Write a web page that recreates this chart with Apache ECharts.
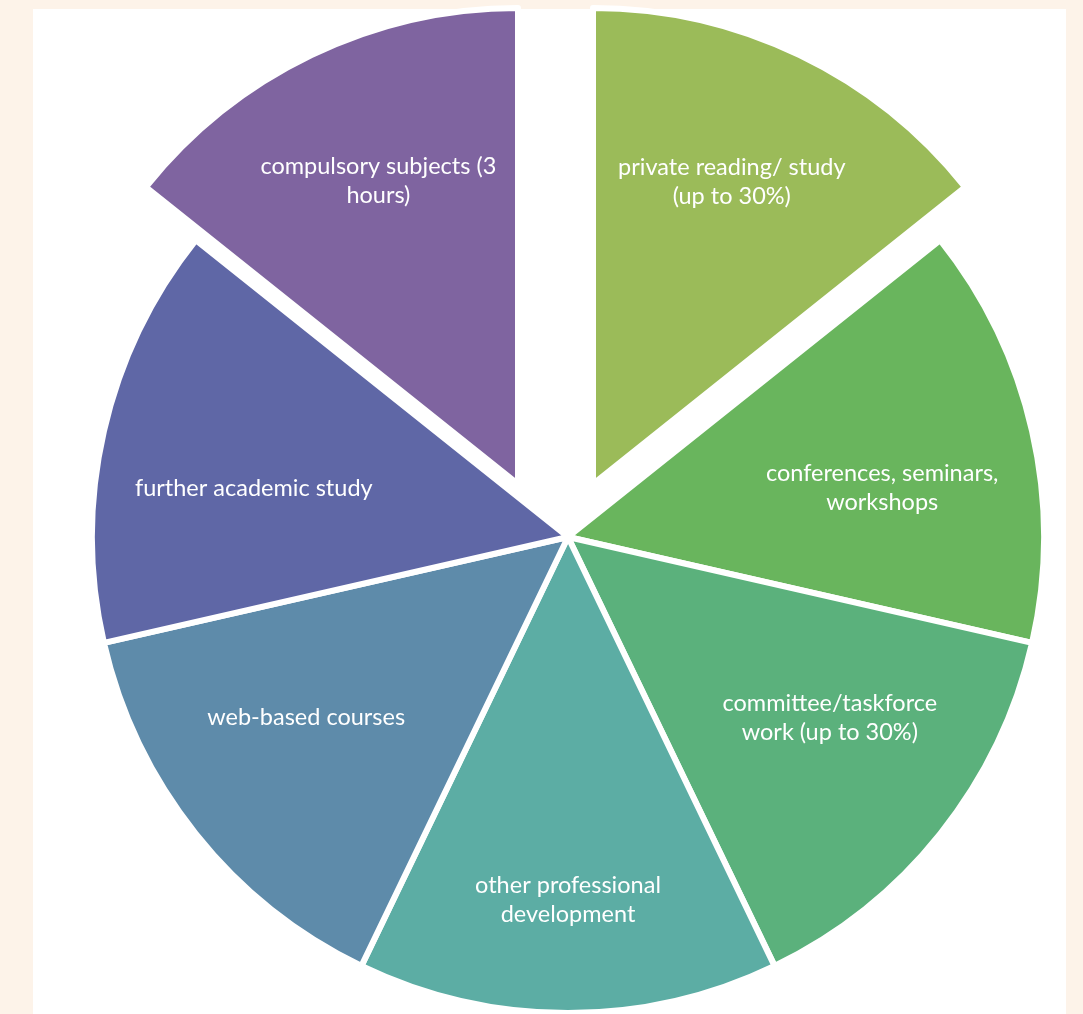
<!DOCTYPE html>
<html>
<head>
<meta charset="utf-8">
<style>
html,body{margin:0;padding:0;background:#FDF3E9;}
#chart{width:1083px;height:1014px;}
</style>
<script src="https://cdn.jsdelivr.net/npm/echarts@6/dist/echarts.min.js"></script>
</head>
<body>
<div id="chart"></div>
<script>
// ---- data ----
const categories = [
  "private reading/ study\n(up to 30%)",
  "conferences, seminars,\nworkshops",
  "committee/taskforce\nwork (up to 30%)",
  "other professional\ndevelopment",
  "web-based courses",
  "further academic study",
  "compulsory subjects (3\nhours)"
];
const values = [1, 1, 1, 1, 1, 1, 1];
const exploded = [0, 6]; // indices of pulled-out slices

// ---- styling / layout ----
const colors = ["#9BBB59", "#69B55D", "#5BB17C", "#5CADA4", "#5E8BAA", "#5F67A6", "#7F64A0"];
const mainCenter = [568, 537];
const explodeCenters = { 0: [593, 484], 6: [518, 484] };
const pieRadius = 476;
const labelDist = [332, 318, 318, 363, 318, 318, 334];
const labelAngleTweak = [-1, 4, -4, 0, 4, -4, 1];

const total = values.reduce((a, b) => a + b, 0);
function midAngle(k) {
  let s = 0;
  for (let i = 0; i < k; i++) s += values[i];
  return (s + values[k] / 2) / total * 360;
}

function buildSeries(visible, center) {
  return {
    type: 'pie',
    center: center,
    radius: [0, pieRadius],
    startAngle: 90,
    clockwise: true,
    silent: true,
    animation: false,
    itemStyle: { borderColor: '#ffffff', borderWidth: 6 },
    label: {
      show: true,
      position: 'inside',
      color: '#ffffff',
      fontFamily: 'Lato',
      fontSize: 23.5,
      lineHeight: 29,
      align: 'center'
    },
    labelLine: { show: false },
    labelLayout: function (p) {
      const k = p.dataIndex;
      const ang = (midAngle(k) + labelAngleTweak[k]) * Math.PI / 180;
      const d = labelDist[k];
      return {
        x: center[0] + d * Math.sin(ang),
        y: center[1] - d * Math.cos(ang),
        align: 'center',
        verticalAlign: 'middle'
      };
    },
    data: categories.map((name, i) => {
      const on = visible.indexOf(i) >= 0;
      return {
        name: name,
        value: values[i],
        itemStyle: on ? { color: colors[i] } : { color: 'rgba(0,0,0,0)', borderWidth: 0 },
        label: { show: on }
      };
    })
  };
}

const mainVisible = categories.map((_, i) => i).filter(i => exploded.indexOf(i) < 0);
const series = [buildSeries(mainVisible, mainCenter)];
exploded.forEach(i => series.push(buildSeries([i], explodeCenters[i])));

const chart = echarts.init(document.getElementById('chart'), null, { renderer: 'canvas' });
chart.setOption({
  backgroundColor: '#FDF3E9',
  animation: false,
  graphic: [{
    type: 'rect',
    z: -10,
    silent: true,
    shape: { x: 33, y: 9, width: 1033, height: 1010 },
    style: { fill: '#ffffff' }
  }],
  series: series
});
</script>
</body>
</html>
